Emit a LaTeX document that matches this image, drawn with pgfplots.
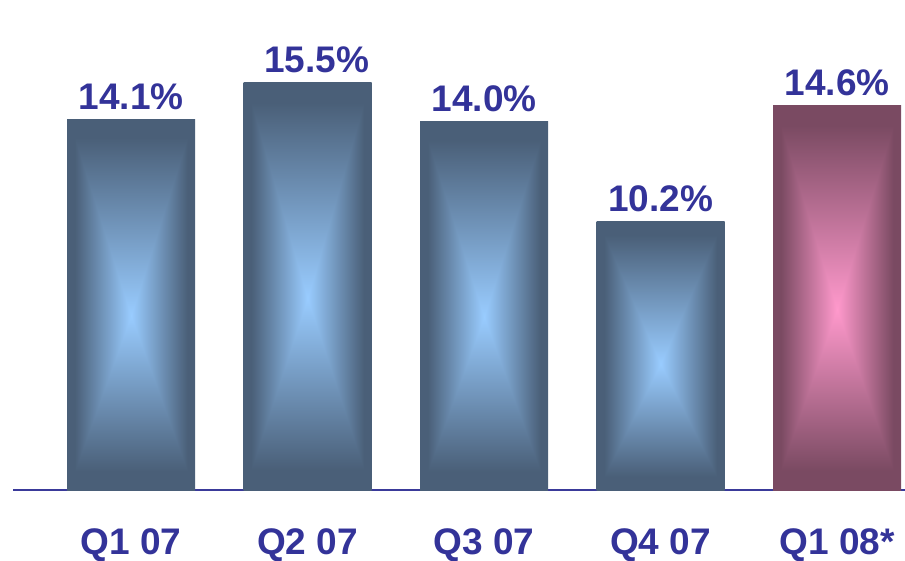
\documentclass[border=0pt]{standalone}
\usepackage{pgfplots}
\pgfplotsset{compat=1.18}
\usepackage{fontspec}
\setmainfont{Liberation Sans}
\definecolor{labcol}{HTML}{333399}
\definecolor{axcol}{HTML}{3A3A9A}
\pgfdeclarefunctionalshading{bluerect}{\pgfpoint{-50bp}{-50bp}}{\pgfpoint{50bp}{50bp}}{}{
1.5 add dup 0 lt {neg 21 div} {24 div} ifelse
exch abs 22 div
2 copy lt {exch} if pop
dup 1 gt {pop 1} if
dup 0.29 0.6 sub mul 0.6 add exch
dup 0.373 0.8 sub mul 0.8 add exch
0.47 1 sub mul 1 add
}
\pgfdeclarefunctionalshading{pinkrect}{\pgfpoint{-50bp}{-50bp}}{\pgfpoint{50bp}{50bp}}{}{
1.5 add dup 0 lt {neg 21 div} {24 div} ifelse
exch abs 22 div
2 copy lt {exch} if pop
dup 1 gt {pop 1} if
dup 0.478 1 sub mul 1 add exch
dup 0.29 0.6 sub mul 0.6 add exch
0.384 0.8 sub mul 0.8 add
}
\newcommand{\bigfont}{\fontsize{37}{40}\selectfont\bfseries}
\begin{document}
\begin{tikzpicture}
\begin{axis}[
  scale only axis,
  width=892pt, height=490pt,
  xmin=-0.669, xmax=4.385,
  ymin=0, ymax=18.63,
  axis x line*=bottom,
  hide y axis,
  x axis line style={draw=axcol, line width=1.5pt, -},
  xtick={0,1,2,3,4},
  xticklabels={Q1 07,Q2 07,Q3 07,Q4 07,Q1 08*},
  major tick length=0pt,
  xticklabel style={font=\bigfont, text=labcol, anchor=base, yshift=-64pt},
  clip=false,
]
\addplot[ybar, bar width=128pt, bar shift=0pt, draw=none, shade, shading=bluerect] coordinates {(0,14.1)};
\addplot[ybar, bar width=128pt, bar shift=0pt, draw=none, shade, shading=bluerect] coordinates {(1,15.5)};
\addplot[ybar, bar width=128pt, bar shift=0pt, draw=none, shade, shading=bluerect] coordinates {(2,14.0)};
\addplot[ybar, bar width=128pt, bar shift=0pt, draw=none, shade, shading=bluerect] coordinates {(3,10.2)};
\addplot[ybar, bar width=128pt, bar shift=0pt, draw=none, shade, shading=pinkrect] coordinates {(4,14.6)};
\addplot[draw=none, mark=none, point meta=explicit symbolic,
  nodes near coords,
  nodes near coords style={font=\bigfont, text=labcol, anchor=base, yshift=10pt}]
  coordinates {(0,14.1)[14.1\%] (2,14.0)[14.0\%] (3,10.2)[10.2\%] (4,14.6)[14.6\%]};
\addplot[draw=none, mark=none, point meta=explicit symbolic,
  nodes near coords,
  nodes near coords style={font=\bigfont, text=labcol, anchor=base, yshift=10pt, xshift=9pt}]
  coordinates {(1,15.5)[15.5\%]};
\end{axis}
\pgfresetboundingbox
\path ([xshift=-13pt,yshift=-70pt]current axis.south west) rectangle (current axis.north east);
\end{tikzpicture}
\end{document}
